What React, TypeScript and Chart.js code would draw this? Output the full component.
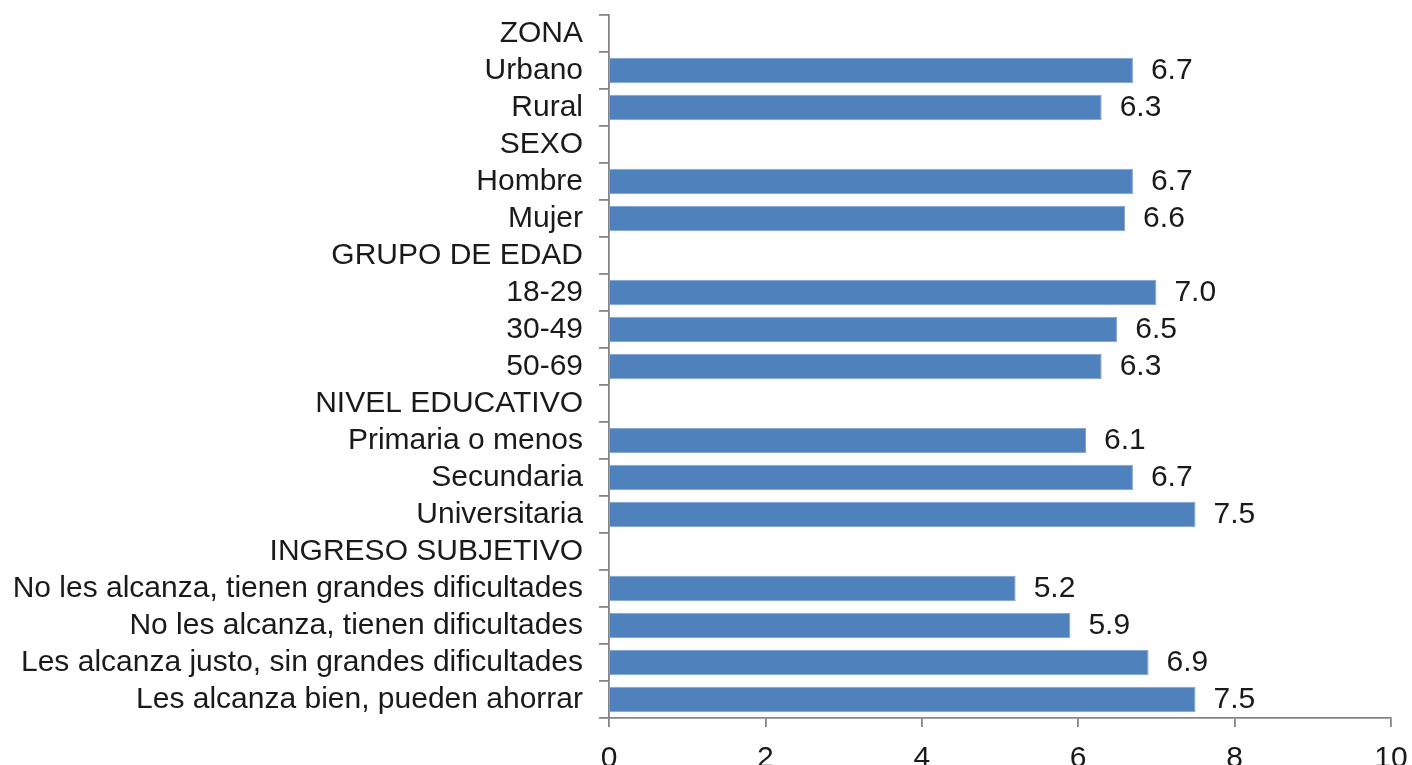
import React, { useEffect, useRef } from "react";
import { Chart, registerables } from "chart.js";

Chart.register(...registerables);

const categories: string[] = [
  "ZONA",
  "Urbano",
  "Rural",
  "SEXO",
  "Hombre",
  "Mujer",
  "GRUPO DE EDAD",
  "18-29",
  "30-49",
  "50-69",
  "NIVEL EDUCATIVO",
  "Primaria o menos",
  "Secundaria",
  "Universitaria",
  "INGRESO SUBJETIVO",
  "No les alcanza, tienen grandes dificultades",
  "No les alcanza, tienen dificultades",
  "Les alcanza justo, sin grandes dificultades",
  "Les alcanza bien, pueden ahorrar",
];

const values: (number | null)[] = [
  null, 6.7, 6.3,
  null, 6.7, 6.6,
  null, 7.0, 6.5, 6.3,
  null, 6.1, 6.7, 7.5,
  null, 5.2, 5.9, 6.9, 7.5,
];

const xMin = 0;
const xMax = 10;
const xStep = 2;

const FONT = "'Liberation Sans', Arial, sans-serif";
const TEXT = "#1a1a1a";
const AXIS = "#858585";
const BAR = "#4F81BD";

const valueLabels = {
  id: "valueLabels",
  afterDatasetsDraw(chart: any) {
    const ctx = chart.ctx;
    const meta = chart.getDatasetMeta(0);
    ctx.save();
    ctx.font = `30px ${FONT}`;
    ctx.fillStyle = TEXT;
    ctx.textAlign = "left";
    ctx.textBaseline = "middle";
    meta.data.forEach((el: any, i: number) => {
      const v = values[i];
      if (v === null || v === undefined) return;
      ctx.fillText(v.toFixed(1), el.x + 18, el.y);
    });
    ctx.restore();
  },
};

export default function App() {
  const ref = useRef<HTMLCanvasElement | null>(null);

  useEffect(() => {
    if (!ref.current) return;
    const chart = new Chart(ref.current, {
      type: "bar",
      data: {
        labels: categories,
        datasets: [
          {
            data: values,
            backgroundColor: BAR,
            borderColor: "#7ea3d1",
            borderWidth: 1,
            barPercentage: 0.69,
            categoryPercentage: 1,
          },
        ],
      },
      options: {
        indexAxis: "y",
        animation: false,
        responsive: true,
        maintainAspectRatio: false,
        layout: { padding: { top: 15, right: 21, left: 0, bottom: 0 } },
        plugins: {
          legend: { display: false },
          tooltip: { enabled: false },
        },
        scales: {
          x: {
            type: "linear",
            min: xMin,
            max: xMax,
            ticks: {
              stepSize: xStep,
              color: TEXT,
              font: { family: FONT, size: 30 },
              padding: 14,
            },
            grid: {
              drawOnChartArea: false,
              drawTicks: true,
              tickLength: 9,
              color: AXIS,
              lineWidth: 1.8,
            },
            border: { display: true, color: AXIS, width: 1.8 },
            afterFit(scale: any) {
              scale.height = 47;
              scale.paddingLeft = 0;
              scale.paddingRight = 0;
            },
          },
          y: {
            type: "category",
            offset: true,
            ticks: {
              autoSkip: false,
              color: TEXT,
              font: { family: FONT, size: 30 },
              padding: 16,
            },
            grid: {
              offset: true,
              drawOnChartArea: false,
              drawTicks: true,
              tickLength: 10,
              color: AXIS,
              lineWidth: 1.8,
            },
            border: { display: true, color: AXIS, width: 1.8 },
            afterFit(scale: any) {
              scale.width = 609;
              scale.paddingTop = 0;
              scale.paddingBottom = 0;
            },
          },
        },
      },
      plugins: [valueLabels],
    });
    return () => chart.destroy();
  }, []);

  return (
    <div
      style={{
        position: "absolute",
        left: 0,
        top: 0,
        width: 1412,
        height: 765,
        background: "#fff",
      }}
    >
      <canvas ref={ref} />
    </div>
  );
}
